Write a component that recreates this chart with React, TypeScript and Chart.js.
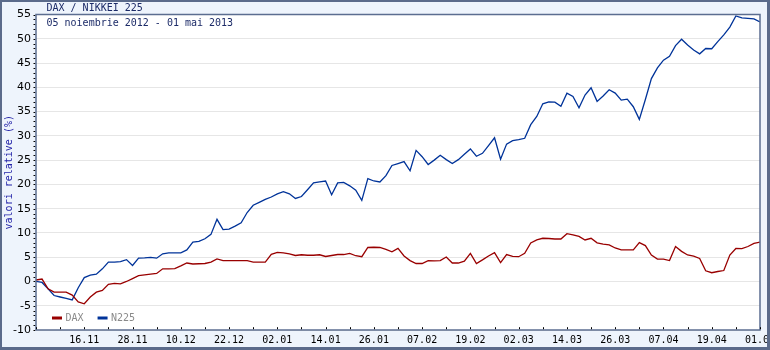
import React, { useEffect, useRef } from "react";
import { Chart, registerables } from "chart.js";

Chart.register(...registerables);

const TITLE = "DAX / NIKKEI 225";
const SUBTITLE = "05 noiembrie 2012 - 01 mai 2013";
const Y_TITLE = "valori relative (%)";

// date labels placed every 8 sessions along the x axis (first one is hidden)
const dateLabels = [
  "05.11", "16.11", "28.11", "10.12", "22.12", "02.01", "14.01", "26.01",
  "07.02", "19.02", "02.03", "14.03", "26.03", "07.04", "19.04", "01.05",
];

const daxValues = [
  0.3, 0.5, -1.5, -2.2, -2.2, -2.2, -2.8, -4.2, -4.6, -3.2,
  -2.2, -1.85, -0.6, -0.4, -0.5, 0.0, 0.6, 1.2, 1.35, 1.5,
  1.65, 2.6, 2.6, 2.65, 3.2, 3.8, 3.6, 3.65, 3.7, 4.0,
  4.65, 4.3, 4.3, 4.3, 4.3, 4.3, 4.0, 4.0, 4.0, 5.6,
  6.0, 5.9, 5.7, 5.35, 5.5, 5.4, 5.4, 5.5, 5.15, 5.35,
  5.55, 5.55, 5.8, 5.3, 5.1, 7.0, 7.05, 7.0, 6.6, 6.1,
  6.8, 5.25, 4.3, 3.7, 3.7, 4.3, 4.25, 4.3, 5.05, 3.8,
  3.8, 4.2, 5.8, 3.7, 4.45, 5.25, 5.95, 3.9, 5.55, 5.15,
  5.1, 5.8, 7.95, 8.55, 8.9, 8.85, 8.75, 8.75, 9.85, 9.6,
  9.3, 8.55, 8.9, 7.95, 7.7, 7.55, 6.9, 6.5, 6.5, 6.5,
  8.0, 7.4, 5.45, 4.6, 4.6, 4.3, 7.2, 6.2, 5.45, 5.2,
  4.75, 2.2, 1.8, 2.05, 2.25, 5.45, 6.8, 6.75, 7.2, 7.85,
  8.1,
];

const n225Values = [
  0.0, -0.2, -1.5, -2.9, -3.2, -3.5, -3.8, -1.3, 0.8, 1.3,
  1.5, 2.6, 4.0, 4.0, 4.1, 4.5, 3.3, 4.8, 4.85, 4.95,
  4.8, 5.7, 5.9, 5.9, 5.9, 6.5, 8.1, 8.25, 8.8, 9.7,
  12.8, 10.7, 10.8, 11.4, 12.1, 14.2, 15.7, 16.3, 16.9, 17.4,
  18.05, 18.5, 18.05, 17.1, 17.5, 18.9, 20.3, 20.5, 20.7, 17.85,
  20.3, 20.4, 19.7, 18.8, 16.7, 21.2, 20.7, 20.5, 21.8, 23.9,
  24.3, 24.7, 22.8, 27.0, 25.7, 24.1, 25.0, 26.0, 25.1, 24.3,
  25.1, 26.2, 27.3, 25.8, 26.4, 28.0, 29.6, 25.2, 28.3, 29.0,
  29.2, 29.5, 32.3, 34.0, 36.6, 37.0, 36.95, 36.1, 38.8, 38.1,
  35.8, 38.4, 39.9, 37.1, 38.2, 39.5, 38.8, 37.35, 37.55, 36.0,
  33.4, 37.5, 41.8, 44.0, 45.6, 46.4, 48.6, 49.9, 48.7, 47.7,
  46.9, 48.0, 47.95, 49.4, 50.8, 52.4, 54.7, 54.3, 54.2, 54.1,
  53.45,
];

const Y_MIN = -10;
const Y_MAX = 55;
const Y_STEP = 5;
const SESSIONS_PER_LABEL = 8;

const MONO = "'DejaVu Sans Mono', monospace";
const SANS = "'DejaVu Sans', sans-serif";

const FRAME_BG = "#eef4fc";
const FRAME_BORDER = "#5b6b8b";
const PLOT_BORDER = "#5b6d90";
const TEXT_NAVY = "#1c2b68";

export default function App() {
  const ref = useRef<HTMLCanvasElement>(null);

  useEffect(() => {
    document.body.style.margin = "0";
    const canvas = ref.current;
    if (!canvas) return;

    const toPoints = (vals: number[]) => vals.map((v, i) => ({ x: i, y: v }));
    const lastIndex = daxValues.length - 1;

    const framePlugin = {
      id: "framePlugin",
      beforeDraw(chart: any) {
        const { ctx, chartArea: a, width, height } = chart;
        ctx.save();
        ctx.fillStyle = FRAME_BG;
        ctx.fillRect(0, 0, width, height);
        ctx.fillStyle = "#ffffff";
        ctx.fillRect(a.left, a.top, a.right - a.left, a.bottom - a.top);
        ctx.restore();
      },
      afterDraw(chart: any) {
        const { ctx, chartArea: a, width, height } = chart;
        const xs = chart.scales.x;
        const ys = chart.scales.y;
        ctx.save();

        // plot border
        ctx.strokeStyle = PLOT_BORDER;
        ctx.lineWidth = 1.5;
        ctx.strokeRect(a.left, a.top, a.right - a.left, a.bottom - a.top);

        // y minor ticks
        ctx.strokeStyle = "#000";
        ctx.lineWidth = 1;
        ctx.beginPath();
        for (let v = Y_MIN; v <= Y_MAX; v++) {
          const py = Math.round(ys.getPixelForValue(v)) + 0.5;
          ctx.moveTo(a.left - 2.5, py);
          ctx.lineTo(a.left - 0.8, py);
        }
        // x ticks
        for (const t of xs.ticks) {
          const px = Math.round(xs.getPixelForValue(t.value)) + 0.5;
          ctx.moveTo(px, a.bottom - 0.8);
          ctx.lineTo(px, a.bottom - 2.8);
        }
        ctx.stroke();

        // legend inside plot
        ctx.font = `10px ${MONO}`;
        ctx.textBaseline = "middle";
        ctx.textAlign = "left";
        let lx = a.left + 16;
        const ly = a.bottom - 12;
        chart.data.datasets.forEach((ds: any) => {
          ctx.strokeStyle = ds.borderColor;
          ctx.lineWidth = 3;
          ctx.beginPath();
          ctx.moveTo(lx, ly);
          ctx.lineTo(lx + 10, ly);
          ctx.stroke();
          ctx.fillStyle = "#8a8a8a";
          ctx.fillText(ds.label, lx + 13.5, ly);
          lx += 13.5 + ctx.measureText(ds.label).width + 14;
        });

        // title & subtitle
        ctx.fillStyle = TEXT_NAVY;
        ctx.font = `10px ${MONO}`;
        ctx.fillText(TITLE, a.left + 10.5, 8);
        ctx.fillText(SUBTITLE, a.left + 10.5, 23);

        // outer frame
        ctx.fillStyle = FRAME_BORDER;
        ctx.fillRect(0, 0, width, 2);
        ctx.fillRect(0, 0, 2, height);
        ctx.fillRect(width - 3, 0, 3, height);
        ctx.fillRect(0, height - 3, width, 3);
        ctx.restore();
      },
    };

    const chart = new Chart(canvas, {
      type: "line",
      data: {
        datasets: [
          {
            label: "DAX",
            data: toPoints(daxValues),
            borderColor: "#990000",
            borderWidth: 1.3,
            pointRadius: 0,
            tension: 0,
            fill: false,
          },
          {
            label: "N225",
            data: toPoints(n225Values),
            borderColor: "#003399",
            borderWidth: 1.3,
            pointRadius: 0,
            tension: 0,
            fill: false,
          },
        ],
      },
      options: {
        responsive: false,
        animation: false,
        devicePixelRatio: 1,
        layout: { padding: { left: 0, top: 14.5, right: 10, bottom: 0 } },
        plugins: {
          legend: { display: false },
          tooltip: { enabled: false },
          title: { display: false },
        },
        scales: {
          x: {
            type: "linear",
            min: 0,
            max: lastIndex,
            grid: { display: false, drawTicks: false },
            border: { display: false },
            afterBuildTicks: (s: any) => {
              const half = SESSIONS_PER_LABEL / 2;
              const arr: any[] = [];
              for (let v = 0; v <= lastIndex; v += half) arr.push({ value: v });
              s.ticks = arr;
            },
            afterFit: (s: any) => {
              s.height = 20;
              s.paddingLeft = 0;
              s.paddingRight = 0;
            },
            ticks: {
              autoSkip: false,
              maxRotation: 0,
              minRotation: 0,
              padding: 4,
              color: "#000",
              font: { family: MONO, size: 10 },
              callback: (v: any) => {
                const n = Number(v);
                if (n === 0 || n % SESSIONS_PER_LABEL !== 0) return "";
                return dateLabels[n / SESSIONS_PER_LABEL] ?? "";
              },
            },
          },
          y: {
            type: "linear",
            min: Y_MIN,
            max: Y_MAX,
            grid: { color: "#e6e6e6", lineWidth: 1, drawTicks: false },
            border: { display: false },
            afterFit: (s: any) => {
              s.width = 36;
              s.paddingTop = 0;
              s.paddingBottom = 0;
            },
            ticks: {
              stepSize: Y_STEP,
              padding: 5,
              color: "#000",
              font: { family: SANS, size: 11 },
            },
            title: {
              display: true,
              text: Y_TITLE,
              color: "#2222a8",
              font: { family: MONO, size: 10 },
              padding: { top: 3, bottom: 0 },
            },
          },
        },
      },
      plugins: [framePlugin],
    });

    return () => chart.destroy();
  }, []);

  return (
    <div style={{ width: 770, height: 350 }}>
      <canvas ref={ref} width={770} height={350} style={{ display: "block" }} />
    </div>
  );
}
